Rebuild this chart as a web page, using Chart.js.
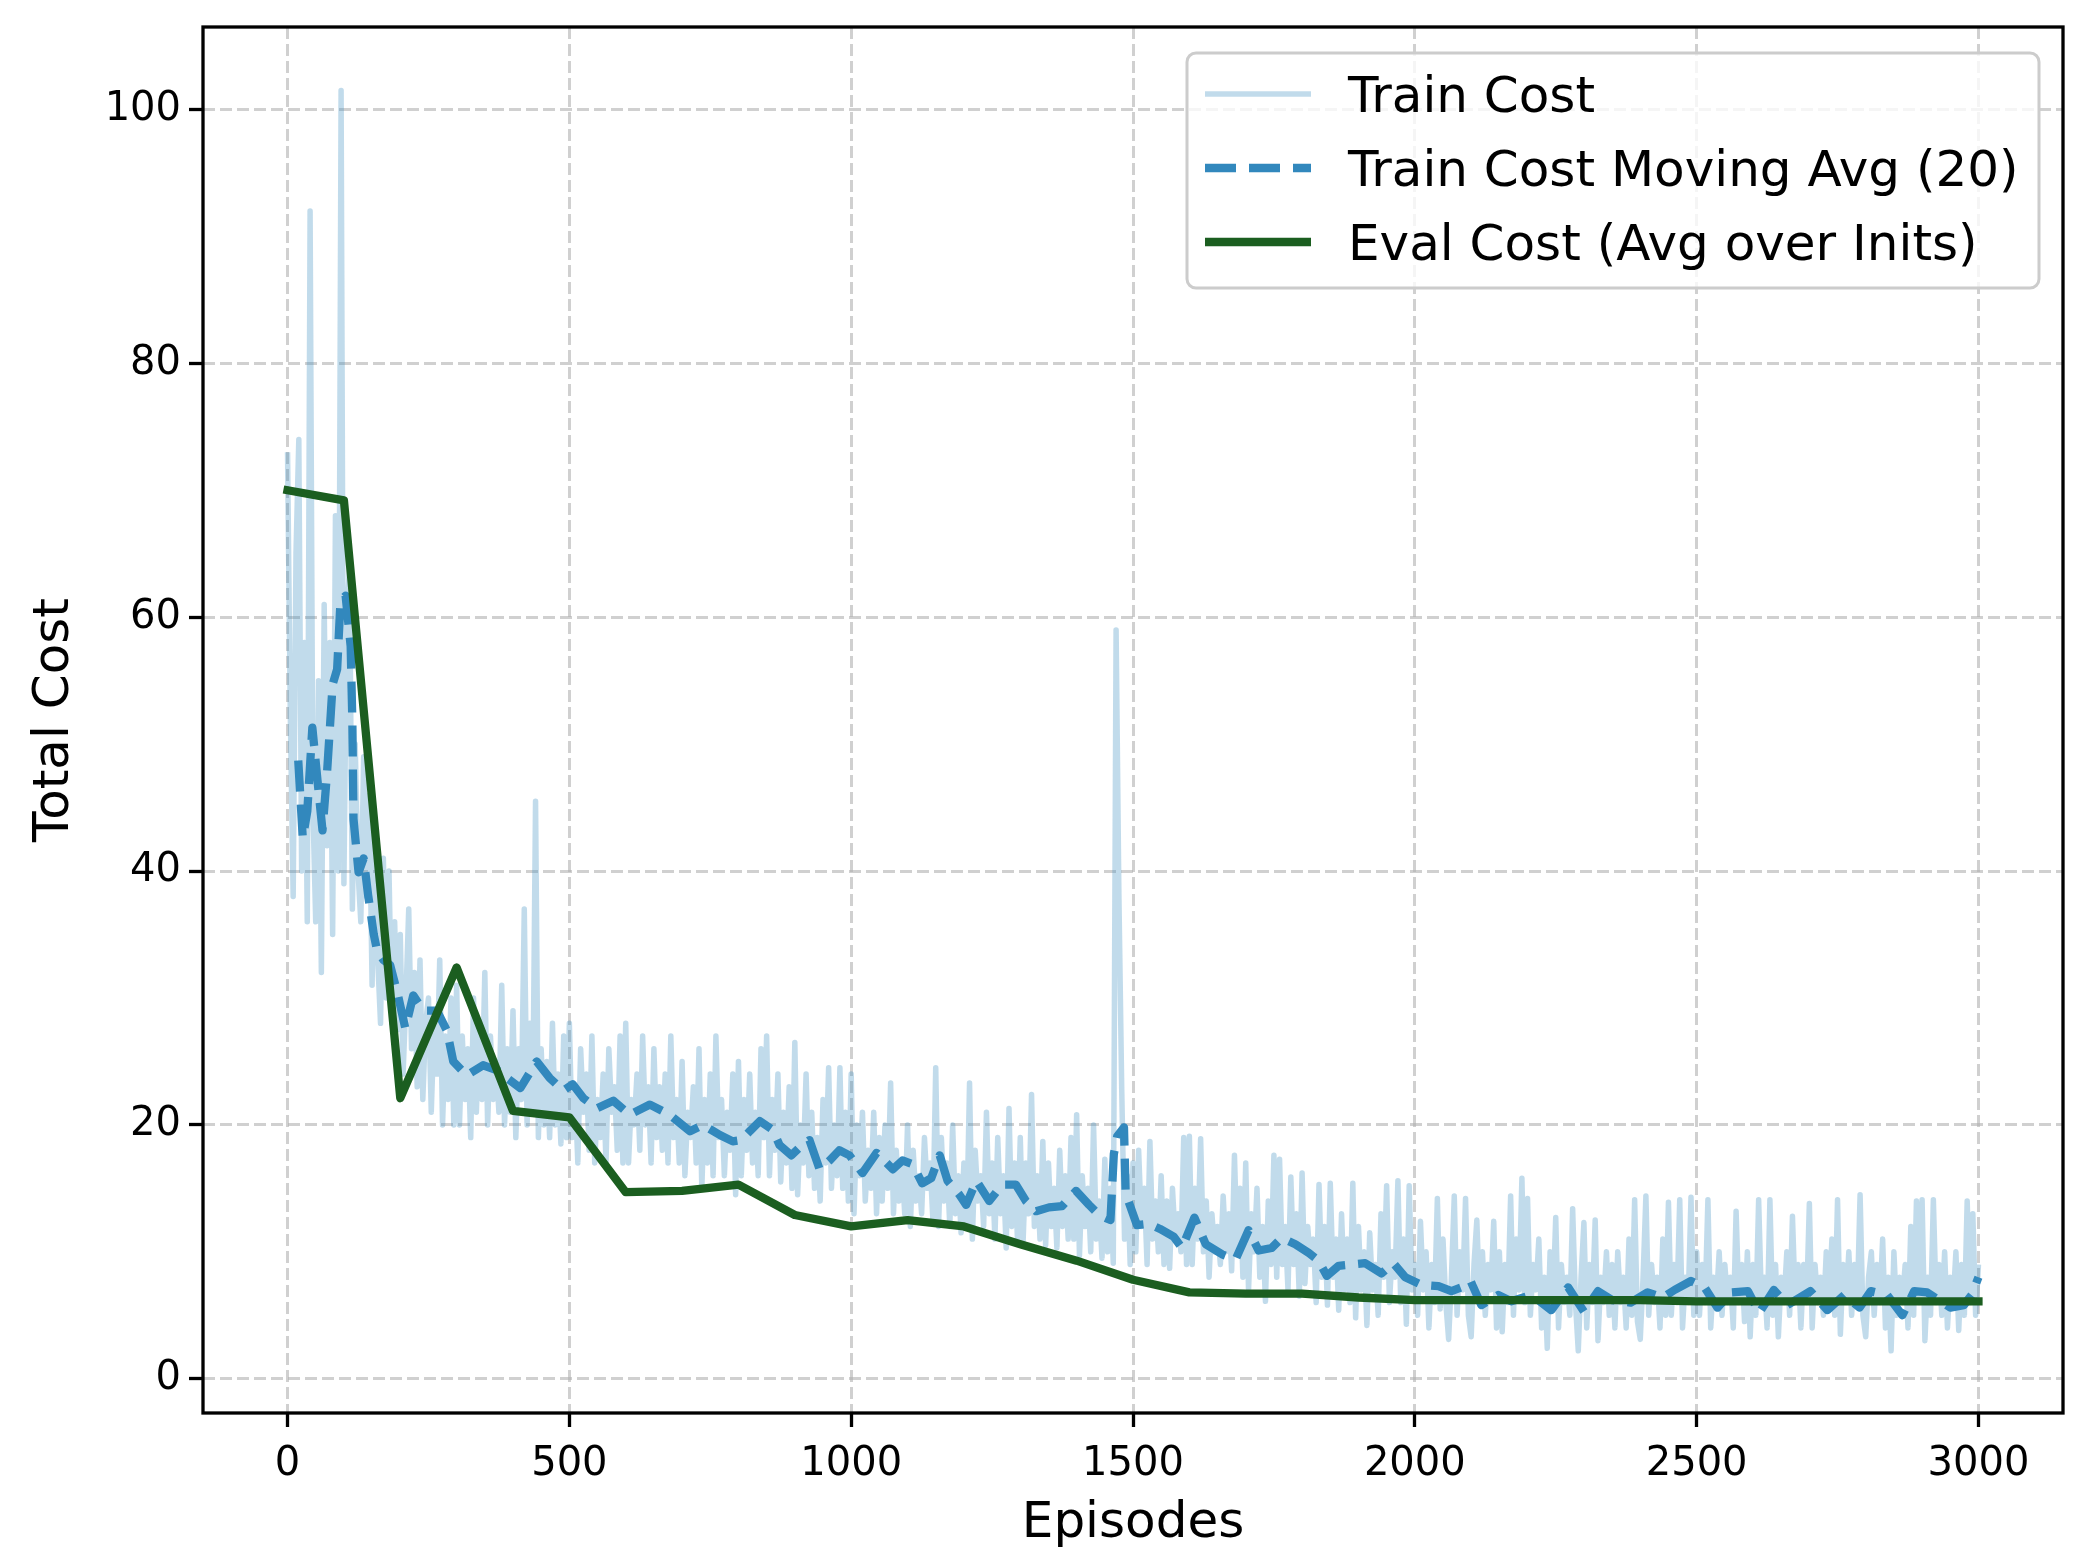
<!DOCTYPE html>
<html>
<head>
<meta charset="utf-8">
<title>Train / Eval cost</title>
<script src="https://cdn.jsdelivr.net/npm/chart.js@4.4.1/dist/chart.umd.min.js"></script>
<style>
  html, body { margin: 0; padding: 0; background: #fff; }
  canvas { display: block; }
</style>
</head>
<body>
<canvas id="costChart" width="2094" height="1551"></canvas>
<script>
// train cost, one value every 5 episodes (0 .. 3000), one row = 50 episodes
const trainStep = 5;
const trainCost = [
  73, 52, 38, 65, 74, 40, 58, 36, 92, 45,             // 0
  36, 55, 32, 61, 42, 58, 35, 68, 40, 101.5,          // 50
  39, 60, 64, 37, 50, 40, 36, 49, 38, 46,             // 100
  31, 44, 33, 28, 41, 30, 40, 28, 36, 27.5,           // 150
  35, 24, 30, 37, 26, 32, 23, 33, 22, 28,             // 200
  30, 21, 28, 24, 33, 20, 27, 22, 30, 20,             // 250
  31, 20, 27, 22, 26, 19, 30, 21, 28, 22,             // 300
  32, 20, 27, 22, 25, 21, 31, 20, 26, 21,             // 350
  29, 19, 26, 22, 37, 20, 28, 21, 45.5, 19,           // 400
  26, 20, 25, 19, 28, 20, 24, 18.5, 27, 19,           // 450
  28, 19, 23, 17, 26, 21, 24, 18, 27, 17,             // 500
  22, 19, 24, 17, 26, 21, 23, 18, 27, 17,             // 550
  28, 17, 22, 20, 24, 18, 27, 20, 23, 17,             // 600
  26, 19, 23, 18, 24, 17, 27, 19, 22, 17,             // 650
  25, 16, 21, 19, 23, 17, 26, 15, 22, 17,             // 700
  24, 16, 27, 19, 22, 16, 21, 18, 24, 14.5,           // 750
  25, 16, 22, 18, 24, 17, 21, 16, 26, 19,             // 800
  27, 16, 22, 18, 24, 15.5, 21, 17, 23, 15,           // 850
  26.5, 14.5, 20, 17, 24, 16, 21, 15, 19, 14,         // 900
  22, 17, 24.5, 15, 20, 16, 24.5, 15, 21, 14,         // 950
  24, 13, 20, 16, 21, 14, 18, 15, 21, 13,             // 1000
  19, 14, 20, 15, 23.3, 13, 18, 14, 17, 13,           // 1050
  20, 12, 18, 14, 16, 13, 19, 15, 17, 12.5,           // 1100
  24.5, 12, 19, 14, 17, 12, 20, 13, 16, 11.5,         // 1150
  17, 12, 23.3, 11, 18, 14, 16, 12, 21, 13,           // 1200
  17, 11, 19, 13, 16, 10.3, 21.3, 12, 17, 11,         // 1250
  19, 10.8, 17, 13, 22.4, 12, 16, 11, 18.7, 10.5,     // 1300
  17, 12, 15, 10.3, 18, 12, 16, 11, 19, 11,           // 1350
  20.8, 9.7, 16, 12, 15, 10, 20, 11, 14, 9.5,         // 1400
  17.3, 10, 15, 9.1, 59, 38, 22.8, 11, 16, 9,         // 1450
  17, 10, 18, 12, 15, 9, 18.7, 11, 14, 10,            // 1500
  16, 9, 14, 8.7, 15, 11, 13, 10, 19, 9,              // 1550
  19.1, 9, 15, 11, 18.9, 10, 14, 8, 13, 10,           // 1600
  12, 9, 14.4, 10, 13, 8.5, 17.6, 10, 15, 8,          // 1650
  17, 7, 13, 10, 15, 8, 12, 6.1, 14, 9,               // 1700
  17.6, 8, 17.3, 9, 12, 7, 15.9, 9, 13, 6.5,          // 1750
  16.2, 7.5, 12, 9, 11, 6, 15.3, 8, 12, 5.8,          // 1800
  15.4, 8, 11, 5.4, 13, 7, 11, 6, 15.4, 4.8,          // 1850
  12, 7, 10, 4.2, 11.5, 7, 9, 5, 13, 8,               // 1900
  15.2, 6, 10, 8, 15.6, 6, 11, 4.3, 15.2, 7,          // 1950
  9, 5, 12.4, 7, 10, 4, 9, 6, 14.2, 5.5,              // 2000
  11, 6, 3.1, 8, 14.4, 5, 10, 7, 14.2, 5,             // 2050
  3.3, 9, 12.5, 6, 10, 5, 9, 7, 12.4, 4,              // 2100
  10, 3.7, 9, 6, 14.4, 5, 11, 7, 15.8, 6,             // 2150
  14.2, 5, 9, 7, 11, 4, 8, 2.4, 10, 6,                // 2200
  12.7, 4, 9, 6, 8, 5, 13.4, 6, 2.2, 8,               // 2250
  12.3, 4, 9, 6, 12.5, 3, 8, 6, 10, 5,                // 2300
  9, 4, 10, 6, 8, 4, 11, 5, 14.1, 4.5,                // 2350
  3.1, 8, 14.4, 5, 9, 6, 8, 4, 11, 5,                 // 2400
  13.9, 5, 9, 6, 14.1, 4, 8, 6, 14.3, 5,              // 2450
  10, 5, 9, 6, 14.1, 4, 8, 6, 10, 5,                  // 2500
  9, 6, 8, 4, 13.2, 6, 9, 4.5, 10, 3.3,               // 2550
  9, 5, 14.1, 6, 8, 4, 14.1, 5, 9, 3.3,               // 2600
  8, 6, 10, 5, 12.8, 6, 9, 4, 9, 6,                   // 2650
  13.8, 4, 9, 6, 8, 5, 10, 6, 11, 5,                  // 2700
  14.1, 3.5, 9, 6, 10, 5, 9, 6, 14.5, 5,              // 2750
  3.3, 8, 10, 5, 9, 6, 11, 4, 8, 2.2,                 // 2800
  10, 5, 8, 6, 9, 4, 12, 5, 14, 6,                    // 2850
  14.1, 3, 8, 5, 14.1, 6, 9, 5, 10, 4,                // 2900
  8, 6, 10, 3.8, 9, 5, 14, 6, 13, 5,                  // 2950
  9                                                   // 3000
];

// moving average (window 20) at these episodes
const movingAvgEpisodes = [
  19, 27, 35, 44, 53, 62, 70, 80, 88, 94, 103, 112, 115, 117, 126, 135, 143, 153, 159, 170,
  182, 196, 209, 223, 241, 265, 283, 294, 318, 347, 372, 389, 413, 442, 465, 489, 506, 525, 549, 578,
  607, 643, 678, 714, 737, 767, 790, 805, 820, 838, 861, 873, 894, 908, 926, 944, 962, 979, 997, 1020,
  1045, 1074, 1091, 1109, 1126, 1142, 1157, 1171, 1192, 1204, 1222, 1245, 1268, 1292, 1310, 1328, 1351, 1374, 1399, 1422,
  1440, 1460, 1466, 1472, 1484, 1487, 1507, 1528, 1548, 1572, 1587, 1609, 1629, 1658, 1682, 1705, 1723, 1746, 1764, 1788,
  1812, 1829, 1844, 1865, 1888, 1912, 1941, 1962, 1983, 2012, 2042, 2065, 2083, 2099, 2118, 2148, 2171, 2207, 2242, 2272,
  2300, 2325, 2350, 2383, 2413, 2440, 2461, 2490, 2514, 2537, 2561, 2591, 2611, 2637, 2661, 2702, 2732, 2762, 2789, 2809,
  2838, 2865, 2886, 2909, 2950, 2974, 2988, 3000
];
const movingAvgCost = [
  48.7, 42.6, 44.7, 51.3, 47.2, 43.2, 47.7, 54.7, 55.9, 61.3, 61.7, 57.7, 51.7, 44.1, 39.9, 41.0, 38.1, 35.0, 33.7, 33.0,
  32.6, 30.2, 27.6, 30.2, 29.0, 29.0, 27.4, 25.0, 23.9, 24.7, 24.3, 23.7, 22.9, 25.0, 23.7, 22.7, 23.2, 22.1, 21.3, 21.9,
  20.8, 21.6, 20.8, 19.5, 20.0, 19.2, 18.7, 18.8, 19.5, 20.3, 19.6, 18.4, 17.6, 18.2, 18.8, 16.5, 17.2, 18.0, 17.6, 16.2,
  17.8, 16.5, 17.2, 16.9, 15.4, 15.8, 17.6, 15.6, 14.5, 13.7, 15.6, 14.0, 15.3, 15.3, 14.0, 13.2, 13.5, 13.6, 14.8, 13.7,
  12.9, 12.5, 17.7, 19.1, 19.8, 14.6, 12.1, 12.2, 11.8, 11.2, 10.3, 12.7, 10.6, 9.8, 9.4, 11.7, 10.1, 10.3, 11.1, 10.6,
  9.9, 9.3, 8.1, 8.9, 9.0, 9.1, 8.3, 9.1, 8.0, 7.4, 7.3, 6.9, 7.2, 7.7, 5.8, 6.6, 6.1, 6.6, 5.4, 7.2,
  5.3, 6.9, 6.2, 6.0, 6.8, 6.4, 7.0, 7.7, 7.2, 5.6, 6.8, 6.9, 5.2, 7.0, 5.8, 6.9, 5.4, 6.6, 5.6, 6.9,
  6.6, 5.0, 6.9, 6.8, 5.6, 5.8, 6.6, 8.0
];

// evaluation cost, every 100 episodes (0 .. 3000)
const evalStep = 100;
const evalCost = [
  70.0, 69.2, 22.1, 32.4, 21.1, 20.6, 14.7, 14.8, 15.3, 12.9,
  12.0, 12.5, 12.0, 10.6, 9.3, 7.8, 6.8, 6.7, 6.7, 6.4,
  6.2, 6.2, 6.2, 6.2, 6.2, 6.1, 6.1, 6.1, 6.1, 6.1,
  6.1
];

const xTicks = [0, 500, 1000, 1500, 2000, 2500, 3000];
const yTicks = [0, 20, 40, 60, 80, 100];

const FONT = '"DejaVu Sans", "Liberation Sans", sans-serif';

// frame around the plot + legend drawn inside the axes (top right)
const frameAndLegend = {
  id: 'frameAndLegend',
  afterDraw(chart) {
    const ctx = chart.ctx;
    const a = chart.chartArea;
    ctx.save();
    ctx.strokeStyle = '#000';
    ctx.lineWidth = 3.3;
    ctx.strokeRect(a.left, a.top, a.right - a.left, a.bottom - a.top);

    const w = 852, h = 235;
    const lx = a.right - 24 - w;
    const ly = a.top + 26;
    ctx.beginPath();
    ctx.roundRect(lx, ly, w, h, 9);
    ctx.fillStyle = 'rgba(255,255,255,0.8)';
    ctx.fill();
    ctx.strokeStyle = '#cccccc';
    ctx.lineWidth = 3;
    ctx.stroke();

    ctx.font = '50px ' + FONT;
    ctx.textBaseline = 'alphabetic';
    ctx.textAlign = 'left';
    const rows = [41, 115, 189];
    chart.data.datasets.forEach((ds, i) => {
      const y = ly + rows[i];
      ctx.beginPath();
      ctx.setLineDash(ds.borderDash || []);
      ctx.lineCap = 'butt';
      ctx.strokeStyle = ds.borderColor;
      ctx.lineWidth = ds.borderWidth;
      ctx.moveTo(lx + 18, y);
      ctx.lineTo(lx + 124, y);
      ctx.stroke();
      ctx.setLineDash([]);
      ctx.fillStyle = '#000';
      ctx.fillText(ds.label, lx + 161, y + 18);
    });
    ctx.restore();
  }
};

const trainPoints = trainCost.map((v, i) => ({ x: i * trainStep, y: v }));
const movingAvgPoints = movingAvgCost.map((v, i) => ({ x: movingAvgEpisodes[i], y: v }));
const evalPoints = evalCost.map((v, i) => ({ x: i * evalStep, y: v }));

const gridOpts = {
  color: 'rgba(176,176,176,0.6)',
  lineWidth: 3,
  drawTicks: true,
  tickLength: 14,
  tickColor: '#000',
  tickWidth: 3.3,
  tickBorderDash: []
};

new Chart(document.getElementById('costChart'), {
  type: 'line',
  data: {
    datasets: [
      {
        label: 'Train Cost',
        data: trainPoints,
        borderColor: 'rgba(50,136,189,0.3)',
        borderWidth: 5.5,
        pointRadius: 0,
        borderJoinStyle: 'round',
        tension: 0,
        order: 3
      },
      {
        label: 'Train Cost Moving Avg (20)',
        data: movingAvgPoints,
        borderColor: '#3288bd',
        borderWidth: 8.3,
        borderDash: [31, 13],
        borderCapStyle: 'butt',
        borderJoinStyle: 'round',
        pointRadius: 0,
        tension: 0,
        order: 2
      },
      {
        label: 'Eval Cost (Avg over Inits)',
        data: evalPoints,
        borderColor: '#1b5e20',
        borderWidth: 8.3,
        borderJoinStyle: 'round',
        borderCapStyle: 'square',
        pointRadius: 0,
        tension: 0,
        order: 1
      }
    ]
  },
  options: {
    responsive: false,
    animation: false,
    devicePixelRatio: 1,
    layout: { padding: { left: 0, top: 27, right: 31, bottom: 0 } },
    plugins: {
      legend: { display: false },
      tooltip: { enabled: false }
    },
    scales: {
      x: {
        type: 'linear',
        min: -150,
        max: 3150,
        afterBuildTicks: (scale) => { scale.ticks = xTicks.map(v => ({ value: v })); },
        afterFit: (scale) => {
          scale.height = 138;
          scale.paddingLeft = 0;
          scale.paddingRight = 0;
        },
        grid: gridOpts,
        border: { display: false, dash: [12, 5] },
        ticks: {
          autoSkip: false,
          maxRotation: 0,
          padding: 14,
          color: '#000',
          font: { family: FONT, size: 40 },
          callback: (v) => String(v)
        },
        title: {
          display: true,
          text: 'Episodes',
          color: '#000',
          font: { family: FONT, size: 50 },
          padding: { top: 0, bottom: -3 }
        }
      },
      y: {
        type: 'linear',
        min: -2.7,
        max: 106.5,
        afterBuildTicks: (scale) => { scale.ticks = yTicks.map(v => ({ value: v })); },
        afterFit: (scale) => {
          scale.width = 203;
          scale.paddingTop = 0;
          scale.paddingBottom = 0;
        },
        grid: gridOpts,
        border: { display: false, dash: [12, 5] },
        ticks: {
          autoSkip: false,
          padding: 8,
          color: '#000',
          font: { family: FONT, size: 40 },
          callback: (v) => String(v)
        },
        title: {
          display: true,
          text: 'Total Cost',
          color: '#000',
          font: { family: FONT, size: 50 },
          padding: { top: 25, bottom: 0 }
        }
      }
    }
  },
  plugins: [frameAndLegend]
});
</script>
</body>
</html>
